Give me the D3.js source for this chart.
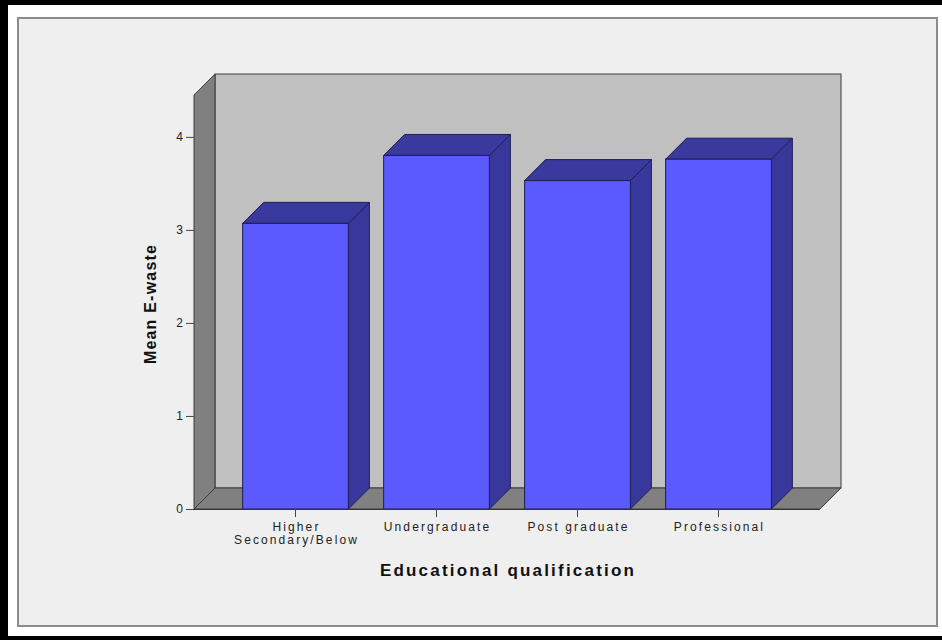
<!DOCTYPE html>
<html><head><meta charset="utf-8">
<script src="https://cdn.jsdelivr.net/npm/d3@7"></script>
<style>body{margin:0;background:#fff;overflow:hidden}</style>
</head><body><svg id="c" width="942" height="640"></svg>
<script>
// ---- data ----
const categories = ["Higher Secondary/Below", "Undergraduate", "Post graduate", "Professional"];
const categoryLines = [["Higher", "Secondary/Below"], ["Undergraduate"], ["Post graduate"], ["Professional"]];
const meanEwaste = [3.07, 3.80, 3.53, 3.76];
const yTicks = [0, 1, 2, 3, 4];
const yMax = 4.45;
const xTitle = "Educational qualification";
const yTitle = "Mean E-waste";

// ---- layout ----
const svg = d3.select("#c");
const W = 942, H = 640;
const plotLeft = 194, plotRight = 820, plotBottom = 509, plotTop = 95;
const depth = 21;

svg.append("rect").attr("x", 0).attr("y", 0).attr("width", W).attr("height", H).attr("fill", "#000");
svg.append("rect").attr("x", 8).attr("y", 5).attr("width", W - 8).attr("height", 631).attr("fill", "#fff");
svg.append("rect").attr("x", 18).attr("y", 18).attr("width", 919).attr("height", 608)
  .attr("fill", "#efefef").attr("stroke", "#8c8c8c").attr("stroke-width", 2);

const y = d3.scaleLinear().domain([0, yMax]).range([plotBottom, plotTop]);
const x = d3.scaleBand().domain(categories).range([plotLeft, plotRight])
  .paddingInner(0.25).paddingOuter(0.345);

const g = svg.append("g");
const wallStroke = "#3c3c3c";

// back wall
g.append("rect")
  .attr("x", plotLeft + depth).attr("y", y(yMax) - depth)
  .attr("width", plotRight - plotLeft).attr("height", (plotBottom - depth) - (y(yMax) - depth))
  .attr("fill", "#c0c0c0").attr("stroke", wallStroke).attr("stroke-width", 1);
// left wall
g.append("polygon")
  .attr("points", [[plotLeft, y(yMax)], [plotLeft + depth, y(yMax) - depth], [plotLeft + depth, plotBottom - depth], [plotLeft, plotBottom]].map(p => p.join(",")).join(" "))
  .attr("fill", "#808080").attr("stroke", wallStroke).attr("stroke-width", 1);
// floor
g.append("polygon")
  .attr("points", [[plotLeft, plotBottom], [plotRight, plotBottom], [plotRight + depth, plotBottom - depth], [plotLeft + depth, plotBottom - depth]].map(p => p.join(",")).join(" "))
  .attr("fill", "#808080").attr("stroke", wallStroke).attr("stroke-width", 1);

// bars
const barStroke = "#1e1e55";
const bars = g.selectAll("g.bar").data(categories.map((c, i) => ({ c, v: meanEwaste[i] })))
  .enter().append("g").attr("class", "bar");
bars.append("polygon") // side
  .attr("points", d => {
    const x0 = x(d.c) + x.bandwidth(), yv = y(d.v);
    return [[x0, yv], [x0 + depth, yv - depth], [x0 + depth, plotBottom - depth], [x0, plotBottom]].map(p => p.join(",")).join(" ");
  })
  .attr("fill", "#38389c").attr("stroke", barStroke).attr("stroke-width", 1).attr("stroke-linejoin", "round");
bars.append("polygon") // top
  .attr("points", d => {
    const x0 = x(d.c), x1 = x0 + x.bandwidth(), yv = y(d.v);
    return [[x0, yv], [x0 + depth, yv - depth], [x1 + depth, yv - depth], [x1, yv]].map(p => p.join(",")).join(" ");
  })
  .attr("fill", "#3a3a9e").attr("stroke", barStroke).attr("stroke-width", 1).attr("stroke-linejoin", "round");
bars.append("rect") // front
  .attr("x", d => x(d.c)).attr("y", d => y(d.v))
  .attr("width", x.bandwidth()).attr("height", d => plotBottom - y(d.v))
  .attr("fill", "#5a5aff").attr("stroke", barStroke).attr("stroke-width", 1);

// y axis
const yAxis = svg.append("g").attr("transform", `translate(${plotLeft},0)`)
  .call(d3.axisLeft(y).tickValues(yTicks).tickFormat(d3.format("d")).tickSize(8).tickPadding(3));
yAxis.select(".domain").remove();
yAxis.selectAll("line").attr("stroke", "#444");
yAxis.selectAll("text").attr("font-family", "Liberation Sans, Arial, sans-serif").attr("font-size", 12).attr("fill", "#222");

// x axis
const xAxis = svg.append("g").attr("transform", `translate(0,${plotBottom})`)
  .call(d3.axisBottom(x).tickSize(8).tickFormat(""));
xAxis.select(".domain").attr("d", `M${plotLeft},0.5H${plotRight}`).attr("stroke", "#333");
xAxis.selectAll("line").attr("stroke", "#444");
xAxis.selectAll(".tick text").remove();
const lbl = svg.append("g");
categories.forEach((c, i) => {
  categoryLines[i].forEach((ln, j) => {
    lbl.append("text")
      .attr("x", x(c) + x.bandwidth() / 2 + 1)
      .attr("y", plotBottom + 22 + j * 13)
      .attr("text-anchor", "middle")
      .attr("font-family", "Liberation Sans, Arial, sans-serif")
      .attr("font-size", 12).attr("letter-spacing", "2.1px").attr("fill", "#222")
      .text(ln);
  });
});

// titles
svg.append("text").attr("x", 508).attr("y", 576).attr("text-anchor", "middle")
  .attr("font-family", "Liberation Sans, Arial, sans-serif").attr("font-weight", "bold")
  .attr("font-size", 17).attr("letter-spacing", "2.2px").attr("fill", "#111").text(xTitle);
svg.append("text").attr("transform", "translate(156,304) rotate(-90)").attr("text-anchor", "middle")
  .attr("font-family", "Liberation Sans, Arial, sans-serif").attr("font-weight", "bold")
  .attr("font-size", 16).attr("letter-spacing", "1.2px").attr("fill", "#111").text(yTitle);
</script></body></html>
